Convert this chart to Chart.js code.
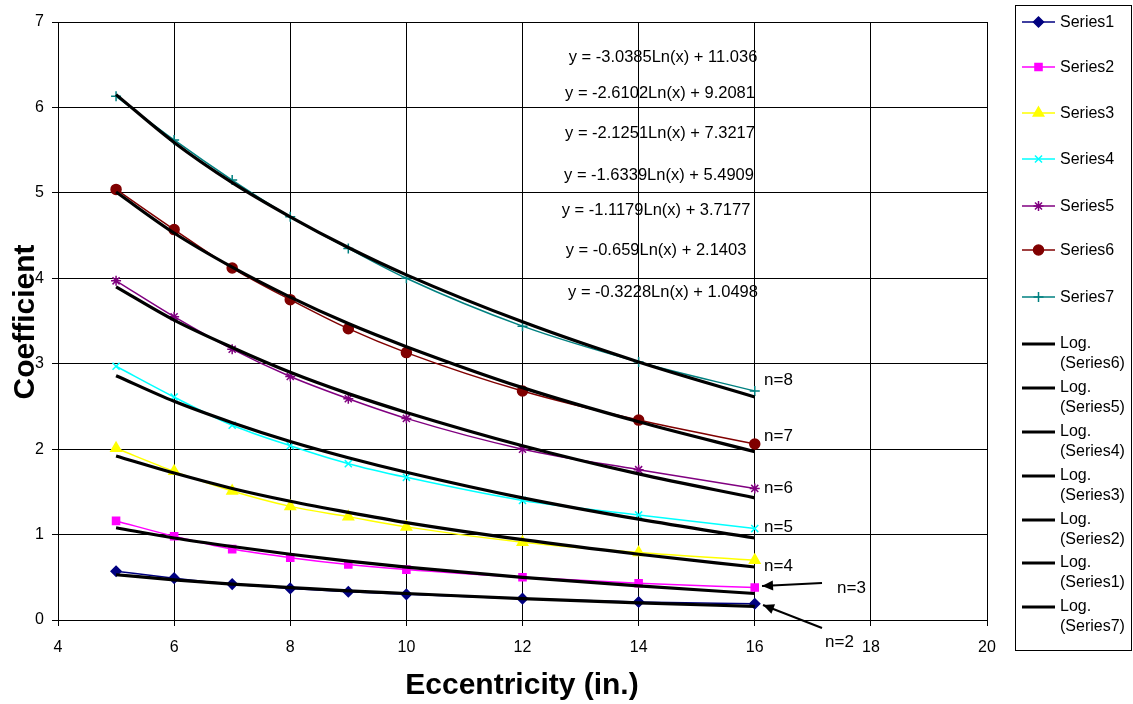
<!DOCTYPE html>
<html>
<head>
<meta charset="utf-8">
<script src="https://cdn.jsdelivr.net/npm/chart.js@4.4.0/dist/chart.umd.min.js"></script>
<style>
  html, body { margin: 0; padding: 0; background: #fff; }
  #wrap { width: 1133px; height: 704px; position: relative; }
</style>
</head>
<body>
<div id="wrap"><canvas id="chart" width="1133" height="704"></canvas></div>
<script>
// Eccentricity values (x)
const eccentricity = [5, 6, 7, 8, 9, 10, 12, 14, 16];

// Measured coefficients, one array per series
const series1 = [0.57, 0.49, 0.42, 0.37, 0.33, 0.30, 0.25, 0.21, 0.19];
const series2 = [1.16, 0.98, 0.83, 0.73, 0.65, 0.59, 0.50, 0.43, 0.38];
const series3 = [2.01, 1.74, 1.51, 1.33, 1.21, 1.09, 0.91, 0.79, 0.70];
const series4 = [2.97, 2.61, 2.28, 2.04, 1.83, 1.67, 1.40, 1.23, 1.07];
const series5 = [3.97, 3.55, 3.17, 2.85, 2.59, 2.36, 2.00, 1.76, 1.54];
const series6 = [5.04, 4.57, 4.12, 3.75, 3.41, 3.13, 2.68, 2.34, 2.06];
const series7 = [6.13, 5.62, 5.15, 4.72, 4.35, 4.00, 3.44, 3.02, 2.68];

// Log trendline values at the same x values
const trend1 = [0.53, 0.47, 0.42, 0.38, 0.34, 0.31, 0.25, 0.20, 0.16];
const trend2 = [1.08, 0.96, 0.86, 0.77, 0.69, 0.62, 0.50, 0.40, 0.31];
const trend3 = [1.92, 1.72, 1.54, 1.39, 1.26, 1.14, 0.94, 0.77, 0.62];
const trend4 = [2.86, 2.56, 2.31, 2.09, 1.90, 1.73, 1.43, 1.18, 0.96];
const trend5 = [3.90, 3.51, 3.19, 2.90, 2.65, 2.43, 2.04, 1.71, 1.43];
const trend6 = [5.01, 4.53, 4.13, 3.78, 3.47, 3.20, 2.72, 2.32, 1.97];
const trend7 = [6.15, 5.59, 5.12, 4.72, 4.36, 4.04, 3.49, 3.02, 2.61];

const equations = [
  "y = -3.0385Ln(x) + 11.036",
  "y = -2.6102Ln(x) + 9.2081",
  "y = -2.1251Ln(x) + 7.3217",
  "y = -1.6339Ln(x) + 5.4909",
  "y = -1.1179Ln(x) + 3.7177",
  "y = -0.659Ln(x) + 2.1403",
  "y = -0.3228Ln(x) + 1.0498"
];

const seriesNames = ["Series1", "Series2", "Series3", "Series4", "Series5", "Series6", "Series7"];
const seriesColors = ["#000080", "#ff00ff", "#ffff00", "#00ffff", "#800080", "#800000", "#008080"];
const seriesMarkers = ["rectRot", "rect", "triangle", "crossRot", "star", "circle", "cross"];
const markerSizes = [5, 5, 6, 5, 5, 5, 5];
const trendOrder = [6, 5, 4, 3, 2, 1, 7]; // legend order of the Log. entries

const allSeries = [series1, series2, series3, series4, series5, series6, series7];
const allTrends = [trend1, trend2, trend3, trend4, trend5, trend6, trend7];

const FONT = "'Liberation Sans', Arial, sans-serif";
Chart.defaults.font.family = FONT;
Chart.defaults.font.size = 16;
Chart.defaults.color = "#000";

function toPoints(ys) {
  return eccentricity.map((x, i) => ({ x: x, y: ys[i] }));
}

let datasets = [];

// black log trendlines on top
allTrends.forEach((t, i) => {
  datasets.push({
    label: "Log. (" + seriesNames[i] + ")",
    data: toPoints(t),
    borderColor: "#000",
    borderWidth: 3.2,
    pointRadius: 0,
    cubicInterpolationMode: "monotone",
    fill: false,
    order: 0
  });
});

allSeries.forEach((s, i) => {
  datasets.push({
    label: seriesNames[i],
    data: toPoints(s),
    borderColor: seriesColors[i],
    backgroundColor: seriesColors[i],
    borderWidth: 1.5,
    pointStyle: seriesMarkers[i],
    pointRadius: markerSizes[i],
    pointBorderWidth: 1.5,
    cubicInterpolationMode: "monotone",
    fill: false,
    order: 1
  });
});

// annotations, equation texts and the hand drawn legend
const extrasPlugin = {
  id: "extras",
  afterDraw(chart) {
    const ctx = chart.ctx;
    ctx.save();
    ctx.fillStyle = "#000";

    // equations
    ctx.font = "16.5px " + FONT;
    ctx.textAlign = "center";
    ctx.textBaseline = "middle";
    const eqY = [57, 93, 133, 175, 210, 250, 292];
    const eqX = [663, 660, 660, 659, 656, 656, 663];
    equations.forEach((e, i) => ctx.fillText(e, eqX[i], eqY[i]));

    // n= labels
    ctx.textAlign = "left";
    ctx.font = "17px " + FONT;
    const nLabels = [["n=8", 764, 380], ["n=7", 764, 436], ["n=6", 764, 488],
                     ["n=5", 764, 527], ["n=4", 764, 566], ["n=3", 837, 588], ["n=2", 825, 642]];
    nLabels.forEach(n => ctx.fillText(n[0], n[1], n[2]));

    // arrows
    function arrow(x1, y1, x2, y2) {
      ctx.strokeStyle = "#000";
      ctx.lineWidth = 2;
      ctx.beginPath();
      ctx.moveTo(x1, y1);
      ctx.lineTo(x2, y2);
      ctx.stroke();
      const a = Math.atan2(y2 - y1, x2 - x1);
      const L = 11, W = 5;
      ctx.beginPath();
      ctx.moveTo(x2, y2);
      ctx.lineTo(x2 - L * Math.cos(a) + W * Math.sin(a), y2 - L * Math.sin(a) - W * Math.cos(a));
      ctx.lineTo(x2 - L * Math.cos(a) - W * Math.sin(a), y2 - L * Math.sin(a) + W * Math.cos(a));
      ctx.closePath();
      ctx.fill();
    }
    arrow(822, 583, 762, 586);
    arrow(822, 628, 763, 605);

    // axis titles
    ctx.font = "bold 30px " + FONT;
    ctx.textAlign = "center";
    ctx.fillText("Eccentricity (in.)", 522, 686);
    ctx.save();
    ctx.translate(26, 322);
    ctx.rotate(-Math.PI / 2);
    ctx.fillText("Coefficient", 0, 0);
    ctx.restore();

    // legend
    ctx.strokeStyle = "#000";
    ctx.lineWidth = 1;
    ctx.strokeRect(1015.5, 5.5, 116, 645);
    ctx.font = "16px " + FONT;
    ctx.textAlign = "left";
    const itemY = [22, 67, 113, 159, 206, 250, 297];
    seriesNames.forEach((name, i) => {
      const y = itemY[i];
      ctx.strokeStyle = seriesColors[i];
      ctx.lineWidth = 1.5;
      ctx.beginPath();
      ctx.moveTo(1022, y);
      ctx.lineTo(1055, y);
      ctx.stroke();
      ctx.fillStyle = seriesColors[i];
      Chart.helpers.drawPoint(ctx, {
        pointStyle: seriesMarkers[i], radius: markerSizes[i], borderWidth: 1.5, rotation: 0
      }, 1038.5, y);
      ctx.fillStyle = "#000";
      ctx.fillText(name, 1060, y + 1);
    });
    const logY = [344, 388, 432, 476, 520, 563, 607];
    trendOrder.forEach((k, i) => {
      const y = logY[i];
      ctx.strokeStyle = "#000";
      ctx.lineWidth = 3;
      ctx.beginPath();
      ctx.moveTo(1022, y);
      ctx.lineTo(1055, y);
      ctx.stroke();
      ctx.fillStyle = "#000";
      ctx.fillText("Log.", 1060, y);
      ctx.fillText("(Series" + k + ")", 1060, y + 20);
    });
    ctx.restore();
  }
};

new Chart(document.getElementById("chart"), {
  type: "line",
  data: { datasets: datasets },
  options: {
    responsive: false,
    animation: false,
    layout: { padding: { left: 0, right: 146, top: 22, bottom: 0 } },
    plugins: { legend: { display: false }, tooltip: { enabled: false } },
    scales: {
      x: {
        type: "linear",
        min: 4, max: 20,
        afterFit: s => { s.height = 84; },
        ticks: { stepSize: 2, padding: 12, font: { size: 16 } },
        grid: { color: "#000", lineWidth: 1, tickLength: 6, tickColor: "#000" },
        border: { color: "#000", width: 1 }
      },
      y: {
        min: 0, max: 7,
        afterFit: s => { s.width = 58; },
        ticks: { stepSize: 1, padding: 8, font: { size: 16 } },
        grid: { color: "#000", lineWidth: 1, tickLength: 6, tickColor: "#000" },
        border: { color: "#000", width: 1 }
      }
    }
  },
  plugins: [extrasPlugin]
});
</script>
</body>
</html>
